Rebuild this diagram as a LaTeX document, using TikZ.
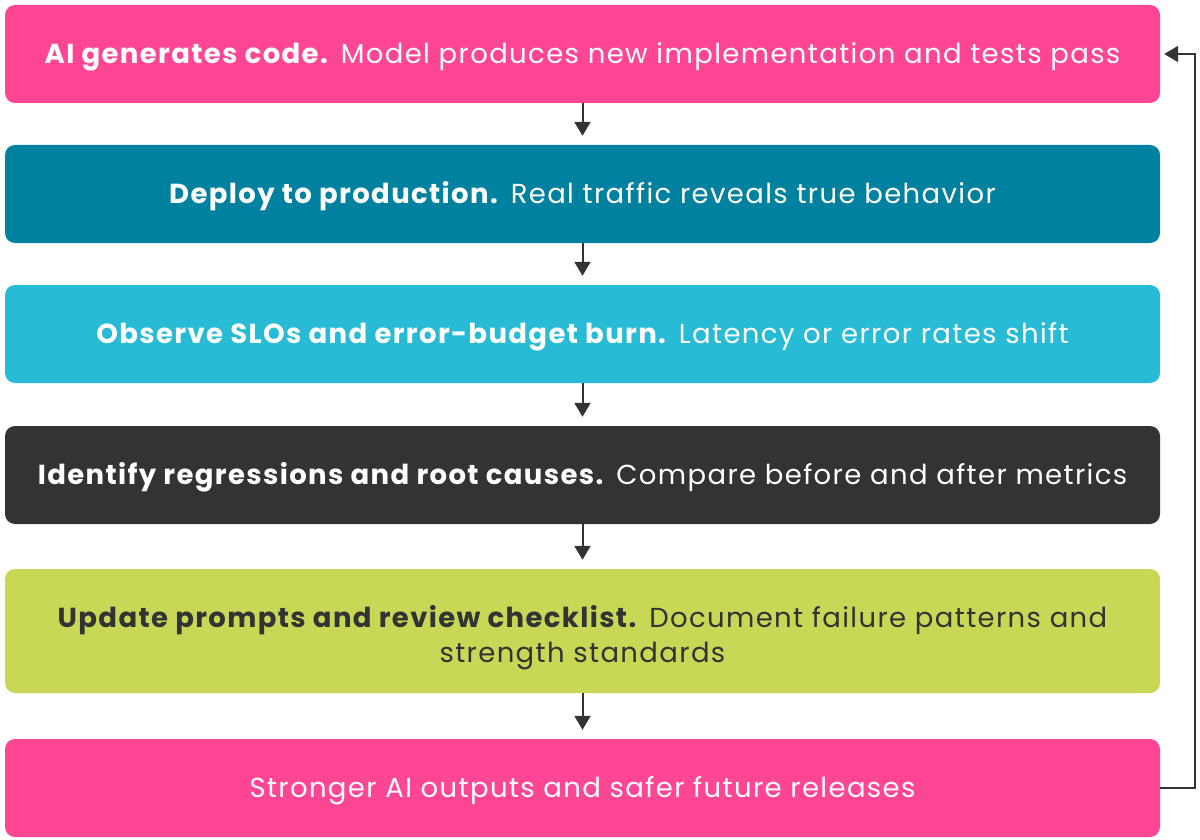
\documentclass[tikz,border=0pt]{standalone}
\usepackage{fontspec}
\setmainfont{Poppins}[LetterSpace=5.0]
\usetikzlibrary{arrows.meta}

\begin{document}
\begin{tikzpicture}[x=1pt, y=-1pt,
  stepbox/.style={rounded corners=10pt, minimum width=1155pt, minimum height=98pt,
    inner sep=0pt, align=center, text=white, text height=19pt, text depth=0pt,
    font=\fontsize{27.5}{35}\selectfont},
  flow/.style={-{Triangle[width=16pt,length=14pt]}, line width=2pt, draw=arrowgray, shorten >=9pt}]
  % Define colors for the steps
  \definecolor{steppink}{HTML}{FE4694}
  \definecolor{stepteal}{HTML}{00819F}
  \definecolor{stepcyan}{HTML}{27BBD5}
  \definecolor{stepdark}{HTML}{333333}
  \definecolor{steplime}{HTML}{C8D755}
  \definecolor{arrowgray}{HTML}{333333}

  \useasboundingbox (0,0) rectangle (1200,840);

  % Steps of the loop
  \node[stepbox, fill=steppink] (generate) at (582.5,54) {\textbf{AI generates code.} Model produces new implementation and tests pass};
  \node[stepbox, fill=stepteal] (deploy) at (582.5,194) {\textbf{Deploy to production.} Real traffic reveals true behavior};
  \node[stepbox, fill=stepcyan] (observe) at (582.5,334) {\textbf{Observe SLOs and error-budget burn.} Latency or error rates shift};
  \node[stepbox, fill=stepdark] (identify) at (582.5,475) {\textbf{Identify regressions and root causes.} Compare before and after metrics};
  \node[stepbox, fill=steplime, text=stepdark, minimum height=124pt, text height=63pt] (update) at (582.5,631) {\textbf{Update prompts and review checklist.} Document failure patterns and\\strength standards};
  \node[stepbox, fill=steppink] (stronger) at (582.5,788) {Stronger AI outputs and safer future releases};

  % Arrows between steps
  \draw[flow] (generate) -- (deploy);
  \draw[flow] (deploy) -- (observe);
  \draw[flow] (observe) -- (identify);
  \draw[flow] (identify) -- (update);
  \draw[flow] (update) -- (stronger);

  % Feedback loop back to the top
  \draw[flow, shorten >=4pt] (stronger.east) -- ++(35,0) |- (generate.east);
\end{tikzpicture}
\end{document}
